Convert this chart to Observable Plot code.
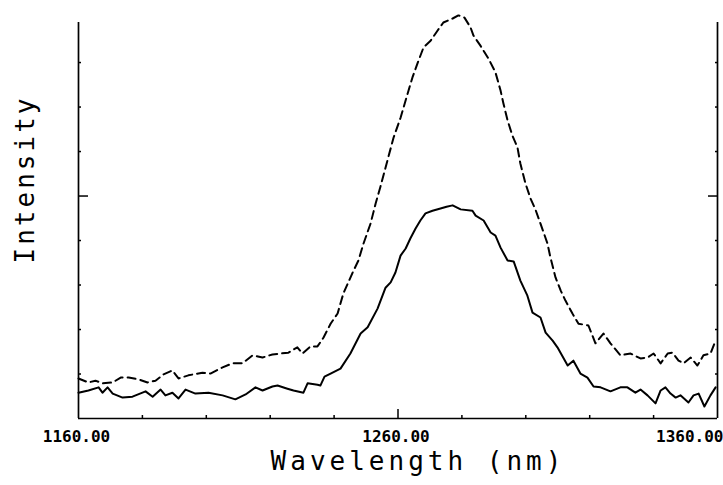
<!DOCTYPE html>
<html><head><meta charset="utf-8">
<script src="https://cdn.jsdelivr.net/npm/d3@7"></script>
<script src="https://cdn.jsdelivr.net/npm/@observablehq/plot@0.6"></script>
<style>html,body{margin:0;padding:0;background:#fff} #chart svg{display:block}</style>
</head><body><div id="chart"></div>
<script>
// Solid curve (lower spectrum)
const solidWavelength = [1160.0,1163.1,1166.3,1167.5,1169.1,1170.7,1173.8,1176.9,1181.0,1183.2,1185.7,1187.2,1189.4,1191.3,1193.5,1196.6,1200.7,1205.1,1209.1,1212.3,1215.4,1217.6,1220.7,1222.3,1225.4,1227.3,1230.4,1231.7,1234.8,1235.7,1237.0,1238.9,1242.0,1245.1,1248.3,1250.5,1253.6,1256.1,1257.7,1259.2,1260.8,1262.4,1263.9,1265.5,1267.0,1268.6,1270.8,1273.3,1275.2,1277.1,1279.6,1283.3,1284.3,1286.8,1289.0,1290.5,1292.1,1294.3,1296.2,1298.3,1300.5,1302.1,1304.6,1306.2,1308.4,1309.9,1313.1,1314.9,1317.1,1319.3,1321.2,1323.4,1326.5,1329.6,1331.8,1334.3,1335.9,1338.1,1340.6,1342.2,1343.7,1345.3,1346.9,1348.4,1350.9,1352.5,1354.1,1355.9,1357.8,1359.4];
const solidIntensity = [0.58,0.63,0.70,0.58,0.70,0.56,0.47,0.49,0.61,0.49,0.65,0.52,0.58,0.45,0.65,0.56,0.58,0.52,0.43,0.54,0.70,0.63,0.72,0.74,0.67,0.63,0.58,0.79,0.76,0.74,0.94,1.01,1.12,1.46,1.91,2.05,2.47,2.94,3.06,3.28,3.66,3.82,4.05,4.27,4.45,4.61,4.67,4.72,4.76,4.79,4.70,4.67,4.56,4.45,4.18,4.11,3.84,3.55,3.53,3.10,2.76,2.38,2.27,1.93,1.75,1.60,1.19,1.30,1.01,0.92,0.72,0.70,0.61,0.70,0.70,0.58,0.65,0.52,0.34,0.63,0.70,0.56,0.47,0.52,0.36,0.52,0.56,0.27,0.52,0.70];

// Dashed curve (upper spectrum)
const dashedWavelength = [1160.0,1163.1,1165.3,1167.5,1170.7,1173.2,1175.7,1178.8,1181.6,1184.1,1186.6,1189.4,1191.3,1194.4,1198.8,1201.3,1205.1,1208.2,1211.3,1214.5,1217.6,1220.7,1223.2,1225.7,1228.5,1230.1,1232.6,1234.8,1236.7,1238.9,1241.1,1242.9,1245.8,1247.6,1249.2,1251.4,1253.0,1254.5,1256.7,1258.6,1260.8,1263.0,1264.5,1266.4,1268.0,1270.2,1272.4,1274.2,1277.1,1278.9,1280.8,1282.7,1283.6,1285.8,1288.3,1290.5,1292.1,1293.0,1294.3,1295.8,1297.4,1298.3,1299.9,1301.5,1303.0,1304.6,1306.8,1307.7,1309.3,1310.9,1312.4,1314.6,1316.5,1319.6,1321.8,1324.3,1326.5,1329.6,1332.8,1335.9,1338.1,1340.0,1342.2,1344.4,1345.9,1347.8,1349.4,1351.6,1353.7,1355.6,1357.8,1359.4];
const dashedIntensity = [0.90,0.81,0.85,0.79,0.81,0.92,0.92,0.88,0.81,0.85,0.99,1.08,0.90,0.97,1.03,1.01,1.15,1.24,1.24,1.42,1.37,1.44,1.46,1.48,1.60,1.46,1.62,1.62,1.82,2.13,2.36,2.81,3.28,3.55,3.93,4.38,4.83,5.21,5.80,6.31,6.76,7.30,7.66,8.04,8.34,8.49,8.72,8.90,8.99,9.06,9.01,8.79,8.61,8.38,8.09,7.78,7.37,7.08,6.70,6.36,6.09,5.73,5.28,4.94,4.70,4.38,3.93,3.62,3.17,2.88,2.65,2.36,2.13,2.09,1.69,1.91,1.69,1.42,1.46,1.35,1.37,1.46,1.24,1.46,1.48,1.30,1.24,1.37,1.19,1.42,1.46,1.75];

// Axis ticks and labels
const xTickLabels = [1160, 1260, 1360];
const xMinorTicks = [1180, 1200, 1220, 1240, 1280, 1300, 1320, 1340];
const xMajorTicks = [1260];
const yMinorTicks = [1, 2, 3, 4, 6, 7, 8];
const yMajorTicks = [5];
const xTitle = "Wavelength (nm)";
const yTitle = "Intensity";

const solid = solidWavelength.map((w, i) => ({w, v: solidIntensity[i]}));
const dashed = dashedWavelength.map((w, i) => ({w, v: dashedIntensity[i]}));

const titleFont = {fontFamily: "DejaVu Sans Mono", fontSize: 26, fill: "#000"};
const tickFont = {fontFamily: "DejaVu Sans Mono", fontWeight: "bold", fontSize: 16, fill: "#000"};

const chart = Plot.plot({
  width: 723,
  height: 485,
  marginLeft: 78,
  marginRight: 6,
  marginTop: 22,
  marginBottom: 67,
  x: {domain: [1160, 1360]},
  y: {domain: [0, 8.9]},
  style: {background: "#fff", color: "#000"},
  marks: [
    // frame
    Plot.ruleX([1160, 1360], {y1: 0, y2: 8.9, stroke: "#000", strokeWidth: 1.7}),
    Plot.ruleY([0], {stroke: "#000", strokeWidth: 1.7}),
    // inward ticks
    Plot.axisY(yMinorTicks, {anchor: "left", tickSize: 3, dx: 3, tickFormat: () => "", label: null, strokeWidth: 1.5}),
    Plot.axisY(yMajorTicks, {anchor: "left", tickSize: 10, dx: 10, tickFormat: () => "", label: null, strokeWidth: 1.5}),
    Plot.axisY(yMinorTicks, {anchor: "right", tickSize: 3, dx: -3, tickFormat: () => "", label: null, strokeWidth: 1.5}),
    Plot.axisY(yMajorTicks, {anchor: "right", tickSize: 10, dx: -10, tickFormat: () => "", label: null, strokeWidth: 1.5}),
    Plot.axisX(xMinorTicks, {anchor: "bottom", tickSize: 3, dy: -3, tickFormat: () => "", label: null, strokeWidth: 1.5}),
    Plot.axisX(xMajorTicks, {anchor: "bottom", tickSize: 9, dy: -9, tickFormat: () => "", label: null, strokeWidth: 1.5}),
    // tick labels
    Plot.text(xTickLabels.slice(0, 2), {x: d => d, frameAnchor: "bottom", dy: 23, dx: -2, text: d => d.toFixed(2), textAnchor: "middle", ...tickFont}),
    Plot.text(xTickLabels.slice(2), {x: d => d, frameAnchor: "bottom", dy: 23, dx: 6, text: d => d.toFixed(2), textAnchor: "end", ...tickFont}),
    // titles
    Plot.text([xTitle], {frameAnchor: "bottom", dx: 20, dy: 51, text: d => d, textAnchor: "middle", ...titleFont}),
    Plot.text([yTitle], {frameAnchor: "left", dx: -53, dy: -41, rotate: -90, text: d => d, textAnchor: "middle", ...titleFont}),
    // curves
    Plot.line(dashed, {x: "w", y: "v", stroke: "#000", strokeWidth: 2, strokeDasharray: "8,5", clip: false}),
    Plot.line(solid, {x: "w", y: "v", stroke: "#000", strokeWidth: 2})
  ]
});
// widen the plotter-style titles
d3.select(chart).selectAll("text").each(function() {
  const t = this.textContent;
  if (t === xTitle) this.style.letterSpacing = "4px";
  if (t === yTitle) this.style.letterSpacing = "3px";
});
document.getElementById("chart").appendChild(chart);
</script>
</body></html>
